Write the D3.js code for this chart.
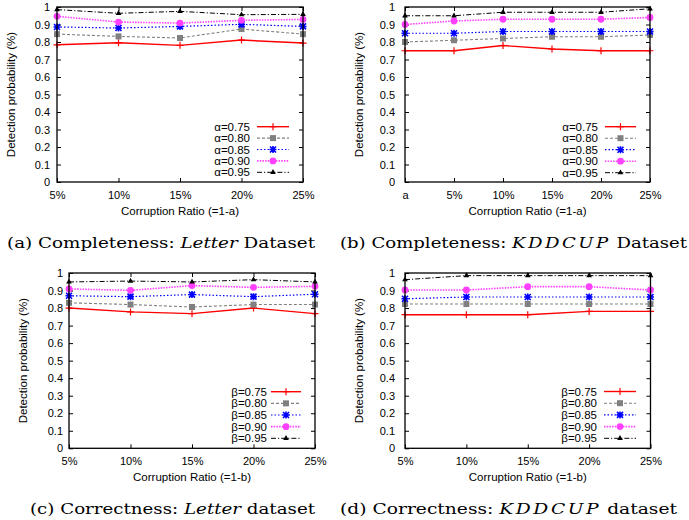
<!DOCTYPE html>
<html><head><meta charset="utf-8">
<script src="https://cdn.jsdelivr.net/npm/d3@7"></script>
<style>body{margin:0;background:#fff}svg{display:block}</style>
</head><body><svg id="c" width="689" height="520"></svg>
<script>
// ---------- data ----------
const xLetter = ["5%", "10%", "15%", "20%", "25%"];
const xKdd = ["a", "5%", "10%", "15%", "20%", "25%"];
const levels = ["0.75", "0.80", "0.85", "0.90", "0.95"];
const yTickValues = [0, 0.1, 0.2, 0.3, 0.4, 0.5, 0.6, 0.7, 0.8, 0.9, 1];

// (a) Completeness, Letter
const aLetter075 = [0.784, 0.796, 0.781, 0.811, 0.794];
const aLetter080 = [0.845, 0.832, 0.823, 0.874, 0.845];
const aLetter085 = [0.886, 0.880, 0.889, 0.901, 0.889];
const aLetter090 = [0.947, 0.914, 0.908, 0.924, 0.929];
const aLetter095 = [0.985, 0.964, 0.975, 0.956, 0.958];
// (b) Completeness, KDDCUP
const aKdd075 = [0.75, 0.75, 0.78, 0.76, 0.75, 0.75];
const aKdd080 = [0.80, 0.81, 0.82, 0.83, 0.83, 0.84];
const aKdd085 = [0.85, 0.85, 0.86, 0.86, 0.86, 0.86];
const aKdd090 = [0.90, 0.92, 0.93, 0.93, 0.93, 0.94];
const aKdd095 = [0.95, 0.95, 0.97, 0.97, 0.97, 0.99];
// (c) Correctness, Letter
const bLetter075 = [0.80, 0.778, 0.768, 0.80, 0.768];
const bLetter080 = [0.83, 0.82, 0.806, 0.82, 0.82];
const bLetter085 = [0.87, 0.865, 0.877, 0.865, 0.879];
const bLetter090 = [0.909, 0.901, 0.928, 0.918, 0.924];
const bLetter095 = [0.949, 0.954, 0.949, 0.962, 0.949];
// (d) Correctness, KDDCUP
const bKdd075 = [0.762, 0.762, 0.762, 0.781, 0.781];
const bKdd080 = [0.823, 0.823, 0.823, 0.823, 0.823];
const bKdd085 = [0.853, 0.863, 0.863, 0.863, 0.863];
const bKdd090 = [0.903, 0.903, 0.922, 0.922, 0.903];
const bKdd095 = [0.962, 0.985, 0.985, 0.985, 0.985];

// ---------- styles ----------
const styles = [
  {color: "#ff0000", width: 1.4, dash: null, marker: "plus"},
  {color: "#808080", width: 1.1, dash: "3,2", marker: "square"},
  {color: "#0000ff", width: 1.2, dash: "1.5,2", marker: "star"},
  {color: "#ff40ff", width: 1.6, dash: "1.5,1.2", marker: "circle"},
  {color: "#000000", width: 1.0, dash: "5,2,1.2,2", marker: "triangle"}
];

const svg = d3.select("#c");
const sansFont = "'Liberation Sans', Arial, Helvetica, sans-serif";
const serifFont = "'DejaVu Serif', serif";

function drawMarker(g, type, cx, cy, color) {
  if (type === "plus") {
    g.append("path").attr("d", `M${cx-3.5},${cy}H${cx+3.5}M${cx},${cy-3.5}V${cy+3.5}`)
      .attr("stroke", color).attr("stroke-width", 1.2).attr("fill", "none");
  } else if (type === "square") {
    g.append("rect").attr("x", cx-3).attr("y", cy-3).attr("width", 6).attr("height", 6).attr("fill", color);
  } else if (type === "star") {
    g.append("path").attr("d", `M${cx-3.5},${cy}H${cx+3.5}M${cx},${cy-3.5}V${cy+3.5}M${cx-3},${cy-3}L${cx+3},${cy+3}M${cx-3},${cy+3}L${cx+3},${cy-3}`)
      .attr("stroke", color).attr("stroke-width", 1.6).attr("fill", "none");
  } else if (type === "circle") {
    g.append("circle").attr("cx", cx).attr("cy", cy).attr("r", 3.4).attr("fill", color);
  } else if (type === "triangle") {
    g.append("path").attr("d", d3.symbol().type(d3.symbolTriangle).size(14)()).attr("transform", `translate(${cx},${cy})`).attr("fill", color);
  }
}

function panel(cfg) {
  const {left, right, top, bottom, cats, series, greek, xTitle} = cfg;
  const x = d3.scalePoint().domain(cats).range([left, right]);
  const y = d3.scaleLinear().domain([0, 1]).range([bottom, top]);
  const g = svg.append("g");

  // axes
  const yFmt = d => d === 0 ? "0" : d === 1 ? "1" : d3.format(".1f")(d);
  const gl = g.append("g").attr("transform", `translate(${left},0)`)
    .call(d3.axisLeft(y).tickValues(yTickValues).tickSizeInner(-4).tickSizeOuter(0).tickPadding(cfg.yPad).tickFormat(yFmt));
  const gr = g.append("g").attr("transform", `translate(${right},0)`)
    .call(d3.axisRight(y).tickValues(yTickValues).tickSizeInner(-4).tickSizeOuter(0).tickFormat(""));
  const gb = g.append("g").attr("transform", `translate(0,${bottom})`)
    .call(d3.axisBottom(x).tickSizeInner(-4).tickSizeOuter(0).tickPadding(9));
  const gt = g.append("g").attr("transform", `translate(0,${top})`)
    .call(d3.axisTop(x).tickSizeInner(-4).tickSizeOuter(0).tickFormat(""));
  [gl, gr, gb, gt].forEach(a => {
    a.select(".domain").remove();
    a.selectAll("line").attr("stroke", "#000").attr("stroke-width", 1);
    a.selectAll("text").attr("font-family", sansFont).attr("font-size", 11).attr("fill", "#000");
  });

  // series
  series.forEach((vals, i) => {
    const st = styles[i];
    const line = d3.line().x((d, j) => x(cats[j])).y(d => y(d));
    g.append("path").datum(vals).attr("d", line).attr("fill", "none")
      .attr("stroke", st.color).attr("stroke-width", st.width)
      .attr("stroke-dasharray", st.dash);
    vals.forEach((v, j) => drawMarker(g, st.marker, x(cats[j]), y(v), st.color));
  });

  // frame
  g.append("rect").attr("x", left).attr("y", top).attr("width", right - left).attr("height", bottom - top)
    .attr("fill", "none").attr("stroke", "#000").attr("stroke-width", 1.3);

  // titles
  g.append("text").attr("x", (left + right) / 2).attr("y", bottom + 32.5).attr("text-anchor", "middle")
    .attr("font-family", sansFont).attr("font-size", 11.5).text(xTitle);
  g.append("text").attr("transform", `translate(${cfg.yTitleX},${(top + bottom) / 2}) rotate(-90)`)
    .attr("text-anchor", "middle").attr("font-family", sansFont).attr("font-size", 11.5)
    .text("Detection probability (%)");

  // legend
  const L = cfg.legend;
  levels.forEach((lv, i) => {
    const st = styles[i];
    const ry = L.y0 + i * L.dy;
    g.append("text").attr("x", L.textRight).attr("y", ry).attr("dy", "0.35em").attr("text-anchor", "end")
      .attr("font-family", sansFont).attr("font-size", 11.5).text(greek + "=" + lv);
    g.append("line").attr("x1", L.x1).attr("x2", L.x2).attr("y1", ry).attr("y2", ry)
      .attr("stroke", st.color).attr("stroke-width", st.width).attr("stroke-dasharray", st.dash);
    drawMarker(g, st.marker, (L.x1 + L.x2) / 2, ry, st.color);
  });

  // caption
  const cap = svg.append("text").attr("x", cfg.capX).attr("y", cfg.capY)
    .attr("font-family", serifFont).attr("font-size", 14.5).attr("fill", "#000");
  cap.append("tspan").text(cfg.caption[0]);
  cap.append("tspan").attr("font-style", "italic").attr("letter-spacing", cfg.capItalicSpacing || 0).text(cfg.caption[1]);
  cap.append("tspan").text(cfg.caption[2]);
  const w = cap.node().getComputedTextLength();
  cap.attr("textLength", cfg.capW).attr("lengthAdjust", "spacingAndGlyphs");
}

panel({left: 57, right: 303, top: 7, bottom: 182, cats: xLetter,
  series: [aLetter075, aLetter080, aLetter085, aLetter090, aLetter095], greek: "α",
  xTitle: "Corruption Ratio (=1-a)", yTitleX: 14.5, yPad: 7,
  legend: {textRight: 250, x1: 257, x2: 289, y0: 126.7, dy: 11.4},
  caption: ["(a) Completeness: ", "Letter", " Dataset"], capX: 7, capY: 247.5, capW: 308});

panel({left: 405, right: 650, top: 7, bottom: 182, cats: xKdd,
  series: [aKdd075, aKdd080, aKdd085, aKdd090, aKdd095], greek: "α",
  xTitle: "Corruption Ratio (=1-a)", yTitleX: 363, yPad: 10,
  legend: {textRight: 598, x1: 605, x2: 636, y0: 126.7, dy: 11.5},
  caption: ["(b) Completeness: ", "KDDCUP", " Dataset"], capX: 340, capY: 247.5, capW: 347, capItalicSpacing: 2});

panel({left: 69, right: 315, top: 273, bottom: 448.3, cats: xLetter,
  series: [bLetter075, bLetter080, bLetter085, bLetter090, bLetter095], greek: "β",
  xTitle: "Corruption Ratio (=1-b)", yTitleX: 26.5, yPad: 6,
  legend: {textRight: 267, x1: 271, x2: 301, y0: 391.7, dy: 11.65},
  caption: ["(c) Correctness: ", "Letter", " dataset"], capX: 30, capY: 514, capW: 285});

panel({left: 405, right: 650.5, top: 273, bottom: 448.3, cats: xLetter,
  series: [bKdd075, bKdd080, bKdd085, bKdd090, bKdd095], greek: "β",
  xTitle: "Corruption Ratio (=1-b)", yTitleX: 363, yPad: 10,
  legend: {textRight: 597, x1: 604, x2: 636, y0: 391.5, dy: 11.7},
  caption: ["(d) Correctness: ", "KDDCUP", " dataset"], capX: 340, capY: 514, capW: 337, capItalicSpacing: 2});
</script>
</body></html>
